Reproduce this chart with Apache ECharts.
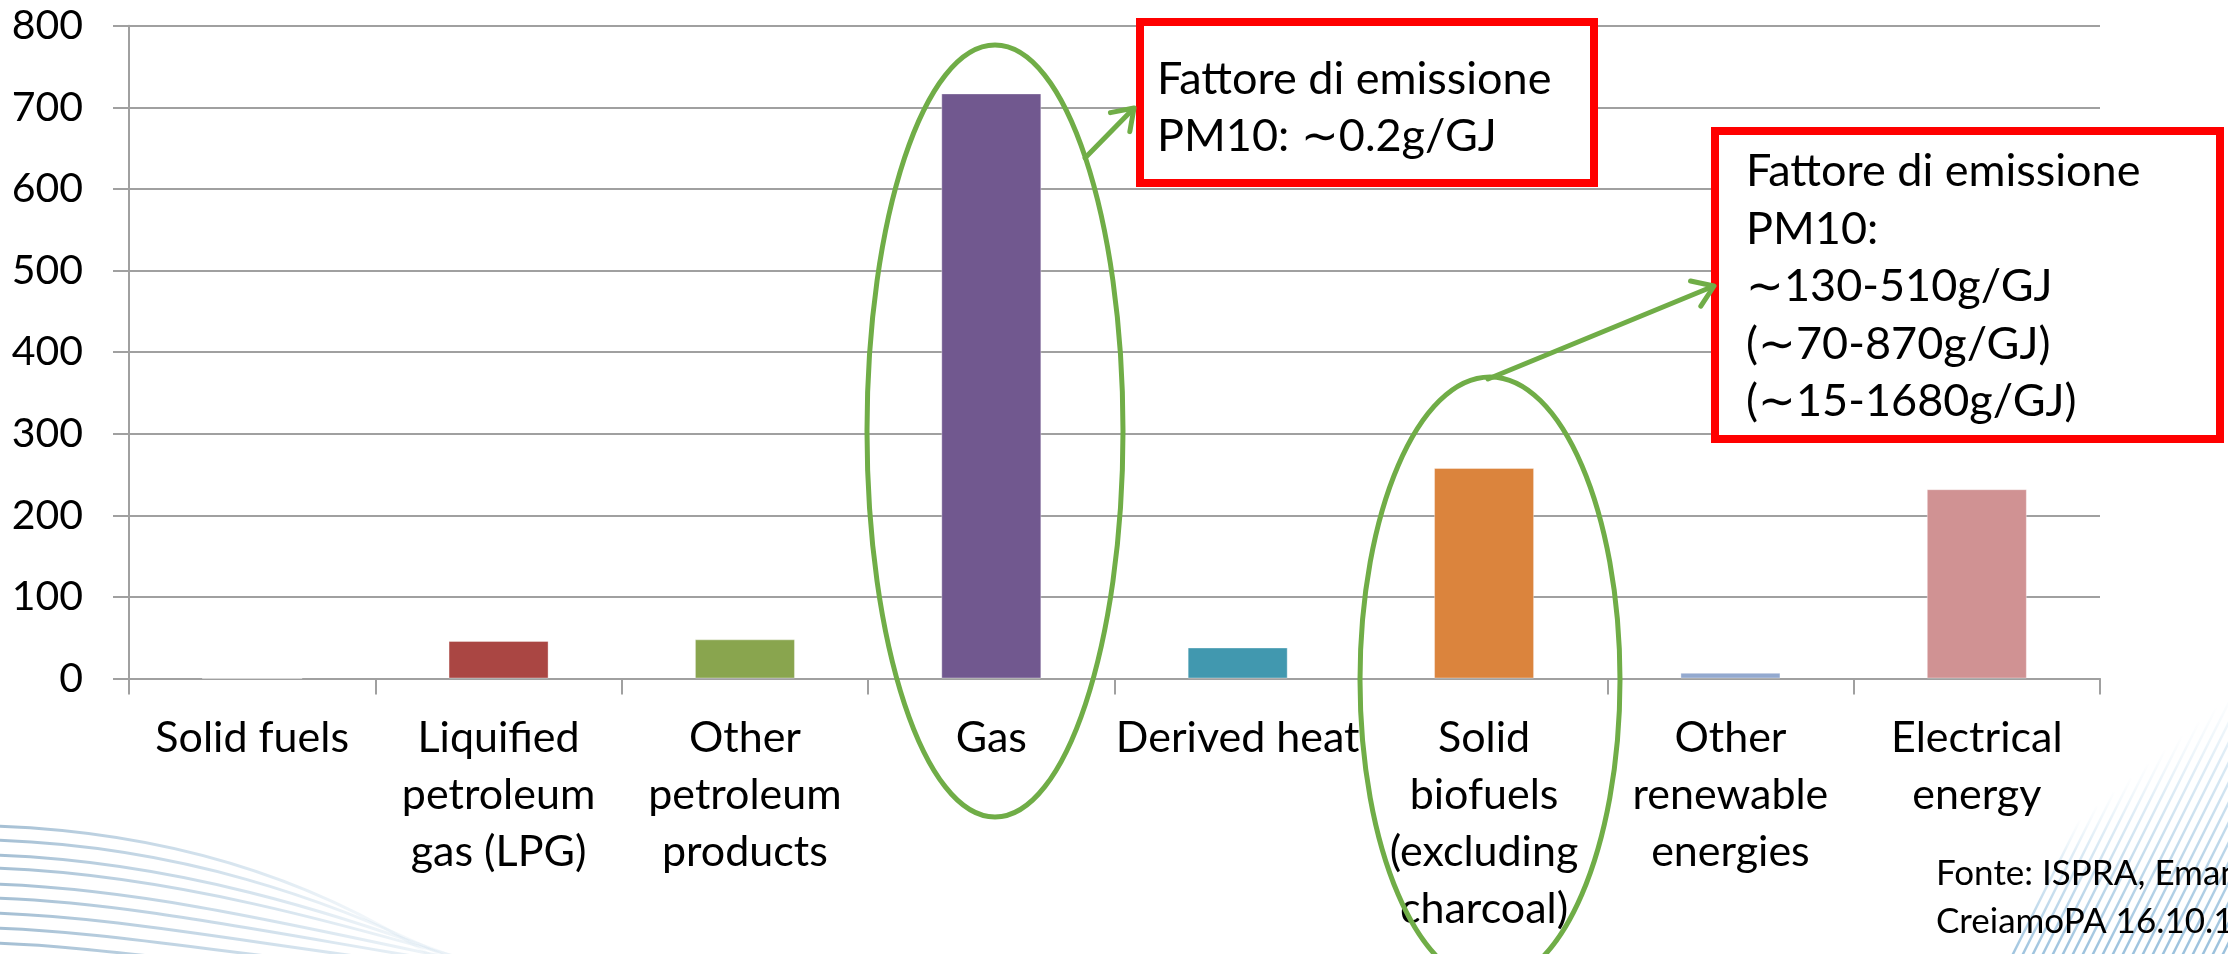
<!DOCTYPE html>
<html>
<head>
<meta charset="utf-8">
<script src="https://cdn.jsdelivr.net/npm/echarts@6/dist/echarts.min.js"></script>
<style>
  html, body { margin: 0; padding: 0; background: #ffffff; }
  #chart { width: 2228px; height: 954px; }
</style>
</head>
<body>
<div id="chart"></div>
<script>
// Final energy consumption by fuel type (residential heating)
const categories = [
  'Solid fuels',
  'Liquified\npetroleum\ngas (LPG)',
  'Other\npetroleum\nproducts',
  'Gas',
  'Derived heat',
  'Solid\nbiofuels\n(excluding\ncharcoal)',
  'Other\nrenewable\nenergies',
  'Electrical\nenergy'
];
const values = [0, 46, 48, 717, 38, 258, 7, 232];
const barColors = ['#4572A7', '#AA4643', '#89A54E', '#71588F', '#4198AF', '#DB843D', '#93A9CF', '#D09293'];

const yMin = 0;
const yMax = 800;
const yStep = 100;

// Callout texts
const noteGas = ['Fattore di emissione', 'PM10: \u223C0.2g/GJ'];
const noteBiofuels = ['Fattore di emissione', 'PM10:', '\u223C130-510g/GJ', '(\u223C70-870g/GJ)', '(\u223C15-1680g/GJ)'];
const sourceLines = ['Fonte: ISPRA, Eman', 'CreiamoPA 16.10.18'];

const FONT = 'Lato, "Open Sans", sans-serif';
const GRID = '#A0A0A0';
const GREEN = '#70AD47';
const RED = '#FF0000';

// Arrow made of a shaft and a two-wing head
function arrow(x1, y1, x2, y2) {
  const dx = x2 - x1, dy = y2 - y1;
  const len = Math.sqrt(dx * dx + dy * dy);
  const ux = dx / len, uy = dy / len;
  const head = 24, spread = 0.6;
  const ang = Math.atan2(uy, ux);
  const w1 = [x2 - head * Math.cos(ang - spread), y2 - head * Math.sin(ang - spread)];
  const w2 = [x2 - head * Math.cos(ang + spread), y2 - head * Math.sin(ang + spread)];
  return [
    { type: 'line', z: 20, shape: { x1: x1, y1: y1, x2: x2 - ux * 2, y2: y2 - uy * 2 },
      style: { stroke: GREEN, lineWidth: 5, lineCap: 'round' } },
    { type: 'polyline', z: 20, shape: { points: [w1, [x2, y2], w2] },
      style: { stroke: GREEN, lineWidth: 5, fill: null, lineCap: 'round', lineJoin: 'round' } }
  ];
}

// Slide template swooshes in the lower corners
function decorations() {
  const els = [];
  const leftStarts = [826, 840, 855, 868, 884, 898, 913, 928, 943];
  leftStarts.forEach(function (y0, i) {
    els.push({
      type: 'bezierCurve', z: 0, silent: true,
      shape: { x1: -10, y1: y0, cpx1: 160, cpy1: y0 + 5, cpx2: 330, cpy2: y0 + 50, x2: 480 + i * 30, y2: 990 },
      style: {
        fill: null, lineWidth: 3,
        stroke: new echarts.graphic.LinearGradient(0, 0, 1, 0, [
          { offset: 0, color: 'rgba(100,145,180,0.6)' },
          { offset: 0.55, color: 'rgba(140,180,210,0.3)' },
          { offset: 1, color: 'rgba(200,220,235,0)' }
        ])
      }
    });
  });
  for (let k = 0; k < 24; k++) {
    const bx = 2010 + k * 10;
    const t = 140 + k * 14;
    els.push({
      type: 'line', z: 0, silent: true,
      shape: { x1: bx, y1: 960, x2: bx + 0.5 * t, y2: 960 - t },
      style: {
        lineWidth: 2.5,
        stroke: new echarts.graphic.LinearGradient(0, 1, 0, 0, [
          { offset: 0, color: 'rgba(110,165,205,0.7)' },
          { offset: 0.7, color: 'rgba(150,195,225,0.3)' },
          { offset: 1, color: 'rgba(180,215,235,0)' }
        ])
      }
    });
  }
  return els;
}

const chart = echarts.init(document.getElementById('chart'), null, { renderer: 'canvas' });

const graphics = decorations().concat([
  // Ellipse around Gas
  { type: 'ellipse', z: 18, shape: { cx: 995, cy: 431, rx: 128, ry: 386 },
    style: { fill: null, stroke: GREEN, lineWidth: 5 } },
  // Ellipse around solid biofuels
  { type: 'ellipse', z: 18, shape: { cx: 1490, cy: 680, rx: 130, ry: 303 },
    style: { fill: null, stroke: GREEN, lineWidth: 5 } },
  // Callout boxes
  { type: 'rect', z: 19, shape: { x: 1140, y: 22, width: 454, height: 161 },
    style: { fill: '#ffffff', stroke: RED, lineWidth: 8 } },
  { type: 'text', z: 21, x: 1157, y: 51,
    style: { text: noteGas.join('\n'), font: '45px ' + FONT, fill: '#000', lineHeight: 57, verticalAlign: 'top' } },
  { type: 'rect', z: 19, shape: { x: 1715, y: 131, width: 505, height: 308 },
    style: { fill: '#ffffff', stroke: RED, lineWidth: 8 } },
  { type: 'text', z: 21, x: 1746, y: 143,
    style: { text: noteBiofuels.join('\n'), font: '45px ' + FONT, fill: '#000', lineHeight: 57.5, verticalAlign: 'top' } },
  // Source
  { type: 'text', z: 21, x: 1936, y: 850,
    style: { text: sourceLines.join('\n'), font: '35px ' + FONT, fill: '#000', lineHeight: 48, verticalAlign: 'top' } }
]).concat(arrow(1085, 158, 1134, 108)).concat(arrow(1488, 379, 1714, 286));

chart.setOption({
  animation: false,
  backgroundColor: '#ffffff',
  color: barColors,
  grid: { left: 129, right: 128, top: 25.7, bottom: 275.5, containLabel: false },
  xAxis: {
    type: 'category',
    data: categories,
    axisLine: { show: true, lineStyle: { color: GRID, width: 2 } },
    axisTick: { show: true, length: 16, lineStyle: { color: GRID, width: 2 } },
    axisLabel: {
      interval: 0, margin: 31, color: '#000', fontFamily: FONT, fontSize: 43,
      lineHeight: 57, align: 'center'
    },
    splitLine: { show: false }
  },
  yAxis: {
    type: 'value',
    min: yMin, max: yMax, interval: yStep,
    axisLine: { show: true, lineStyle: { color: GRID, width: 2 } },
    axisTick: { show: true, length: 16, lineStyle: { color: GRID, width: 2 } },
    axisLabel: { margin: 46, color: '#000', fontFamily: FONT, fontSize: 41 },
    splitLine: { show: true, lineStyle: { color: GRID, width: 2 } }
  },
  series: [{
    type: 'bar',
    colorBy: 'data',
    data: values,
    barCategoryGap: '59.4%',
    itemStyle: { borderColor: 'rgba(255,255,255,0.35)', borderWidth: 1 },
    z: 5
  }],
  graphic: { elements: graphics }
});
</script>
</body>
</html>
